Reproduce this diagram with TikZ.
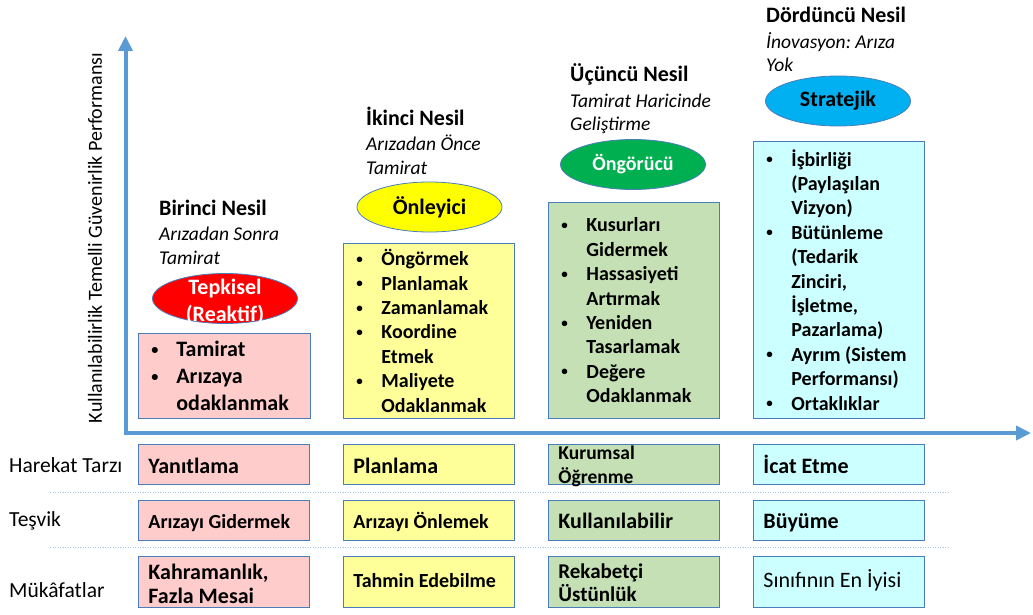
\documentclass[tikz,border=0pt]{standalone}
\usepackage{fontspec}
\setmainfont{Carlito}
\usetikzlibrary{arrows.meta,shapes.geometric,positioning}

\definecolor{axisblue}{HTML}{5B9BD5}
\definecolor{edgeblue}{HTML}{4A7EBB}
\definecolor{dotblue}{HTML}{A9C4E4}
\definecolor{pinkbox}{HTML}{FFCCCC}
\definecolor{yellowbox}{HTML}{FFFF99}
\definecolor{greenbox}{HTML}{C5E0B4}
\definecolor{cyanbox}{HTML}{CCFFFF}
\definecolor{redell}{HTML}{FF0000}
\definecolor{yellowell}{HTML}{FFFF00}
\definecolor{greenell}{HTML}{00B050}
\definecolor{cyanell}{HTML}{00B0F0}

\newcommand{\itm}{\makebox[26pt][l]{\hspace{1pt}\raisebox{2.5pt}{\scalebox{0.65}{\textbullet}}}}
\newcommand{\nxt}{\hspace*{26pt}}
\newcommand{\natspace}{\frenchspacing\spaceskip=0pt\xspaceskip=0pt\relax}

\begin{document}
\begin{tikzpicture}[x=1pt,y=-1pt,
		title/.style={anchor=base west,inner sep=0pt,font=\fontsize{22}{26}\selectfont\bfseries},
		sub/.style={anchor=base west,inner sep=0pt,align=left,execute at begin node=\natspace,font=\fontsize{19.5}{23.5}\selectfont\itshape},
		ell/.style={ellipse,draw=edgeblue,line width=0.8pt,minimum width=145pt,minimum height=50pt,inner sep=0pt},
		list/.style={draw=edgeblue,line width=0.8pt,anchor=north west,inner xsep=12pt,inner ysep=0pt,
			text width=147pt,align=left,execute at begin node=\natspace,font=\fontsize{20}{24.4}\selectfont\bfseries},
		cell/.style={draw=edgeblue,line width=0.8pt,anchor=north west,inner xsep=10pt,inner ysep=0pt,
			text width=151pt,align=left,execute at begin node=\natspace,font=\fontsize{22}{24}\selectfont\bfseries},
		rowa/.style={minimum height=40pt,text height=24pt,text depth=6pt},
		rowb/.style={minimum height=40pt,text height=23pt,text depth=7pt},
		rowc/.style={minimum height=51pt,text height=20pt,text depth=9pt},
		rowlabel/.style={anchor=base west,inner sep=0pt,font=\fontsize{21.5}{26}\selectfont},
		sep/.style={draw=dotblue,line width=1pt,dash pattern=on 1pt off 1.5pt},
		axis/.style={draw=axisblue,line width=4pt,{Triangle[width=14pt,length=15pt]}-{Triangle[width=14pt,length=15pt]}}]

	\useasboundingbox (0,0) rectangle (1033,615);

	\coordinate (Ytip) at (125.5,36);
	\coordinate (O) at (125.5,433);
	\coordinate (Xtip) at (1031,433);
	\draw[axis] (Ytip) -- (O) -- (Xtip);
	\node[rotate=90,font=\fontsize{20}{24}\selectfont] (Ylab) at (95,238) {Kullanılabilirlik Temelli Güvenirlik Performansı};

	\node[title] (N1) at (159,215) {Birinci Nesil};
	\node[sub] (A1) at (159,264) {Arızadan Sonra\\Tamirat};
	\node[title] (N2) at (366,125) {İkinci Nesil};
	\node[sub] (A2) at (366,174) {Arızadan Önce\\Tamirat};
	\node[title] (N3) at (570,82) {Üçüncü Nesil};
	\node[sub] (A3) at (570,131) {Tamirat Haricinde\\Geliştirme};
	\node[title] (N4) at (766,23) {Dördüncü Nesil};
	\node[sub] (A4) at (766,72) {İnovasyon: Arıza\\Yok};

	\node[ell,fill=redell] (E1) at (225,298.5) {};
	\node[align=center,text=white,font=\fontsize{22}{27}\selectfont\bfseries] (E1t) at ([yshift=-3pt]E1) {Tepkisel\\(Reaktif)};
	\node[ell,fill=yellowell,font=\fontsize{22}{26}\selectfont\bfseries] (E2) at (429.5,207) {Önleyici};
	\node[ell,fill=greenell,text=white,font=\fontsize{20}{24}\selectfont\bfseries] (E3) at (633,164.5) {Öngörücü};
	\node[ell,fill=cyanell,font=\fontsize{22}{26}\selectfont\bfseries] (E4) at (838,101) {Stratejik};

	\node[list,fill=pinkbox,text width=148pt,minimum height=85pt,font=\fontsize{22}{27}\selectfont\bfseries] (B1) at (138,333)
		{\itm Tamirat\\\itm Arızaya\\\nxt odaklanmak};
	\node[list,fill=yellowbox,minimum height=175pt] (B2) at (343,243)
		{\itm Öngörmek\\\itm Planlamak\\\itm Zamanlamak\\\itm Koordine\\\nxt Etmek\\\itm Maliyete\\\nxt Odaklanmak};
	\node[list,fill=greenbox,minimum height=216pt] (B3) at (548,202)
		{\itm Kusurları\\\nxt Gidermek\\\itm Hassasiyeti\\\nxt Artırmak\\\itm Yeniden\\\nxt Tasarlamak\\\itm Değere\\\nxt Odaklanmak};
	\node[list,fill=cyanbox,minimum height=277pt] (B4) at (753,141)
		{\itm İşbirliği\\\nxt (Paylaşılan\\\nxt Vizyon)\\\itm Bütünleme\\\nxt (Tedarik\\\nxt Zinciri,\\\nxt İşletme,\\\nxt Pazarlama)\\\itm Ayrım (Sistem\\\nxt Performansı)\\\itm Ortaklıklar};

	\node[rowlabel] (Lh) at (9,472) {Harekat Tarzı};
	\node[rowlabel] (Lt) at (9,526) {Teşvik};
	\node[rowlabel] (Lm) at (9,597) {Mükâfatlar};

	\node[cell,rowa,fill=pinkbox] (H1) at (138,444) {Yanıtlama};
	\node[cell,rowa,fill=yellowbox] (H2) at (343,444) {Planlama};
	\node[cell,minimum height=40pt,text height=10pt,text depth=20pt,fill=greenbox,font=\fontsize{19.5}{24}\selectfont\bfseries] (H3) at (548,444) {Kurumsal\\Öğrenme};
	\node[cell,rowa,fill=cyanbox] (H4) at (753,444) {İcat Etme};

	\coordinate (S1a) at (50,492);
	\coordinate (S1b) at (950,492);
	\draw[sep] (S1a) -- (S1b);

	\node[cell,rowb,fill=pinkbox,font=\fontsize{20}{24}\selectfont\bfseries] (T1) at (138,500) {Arızayı Gidermek};
	\node[cell,rowb,fill=yellowbox,font=\fontsize{20}{24}\selectfont\bfseries] (T2) at (343,500) {Arızayı Önlemek};
	\node[cell,rowb,fill=greenbox] (T3) at (548,500) {Kullanılabilir};
	\node[cell,rowb,fill=cyanbox] (T4) at (753,500) {Büyüme};

	\coordinate (S2a) at (50,547);
	\coordinate (S2b) at (950,547);
	\draw[sep] (S2a) -- (S2b);

	\node[cell,minimum height=51pt,text height=12pt,text depth=17pt,fill=pinkbox] (M1) at (138,556) {Kahramanlık,\\Fazla Mesai};
	\node[cell,rowc,fill=yellowbox,font=\fontsize{20}{24}\selectfont\bfseries] (M2) at (343,556) {Tahmin Edebilme};
	\node[cell,minimum height=51pt,text height=12pt,text depth=19pt,fill=greenbox,font=\fontsize{21}{23.5}\selectfont\bfseries] (M3) at (548,556) {Rekabetçi\\Üstünlük};
	\node[cell,rowc,fill=cyanbox,font=\fontsize{22}{24}\selectfont] (M4) at (753,556) {Sınıfının En İyisi};
\end{tikzpicture}
\end{document}
